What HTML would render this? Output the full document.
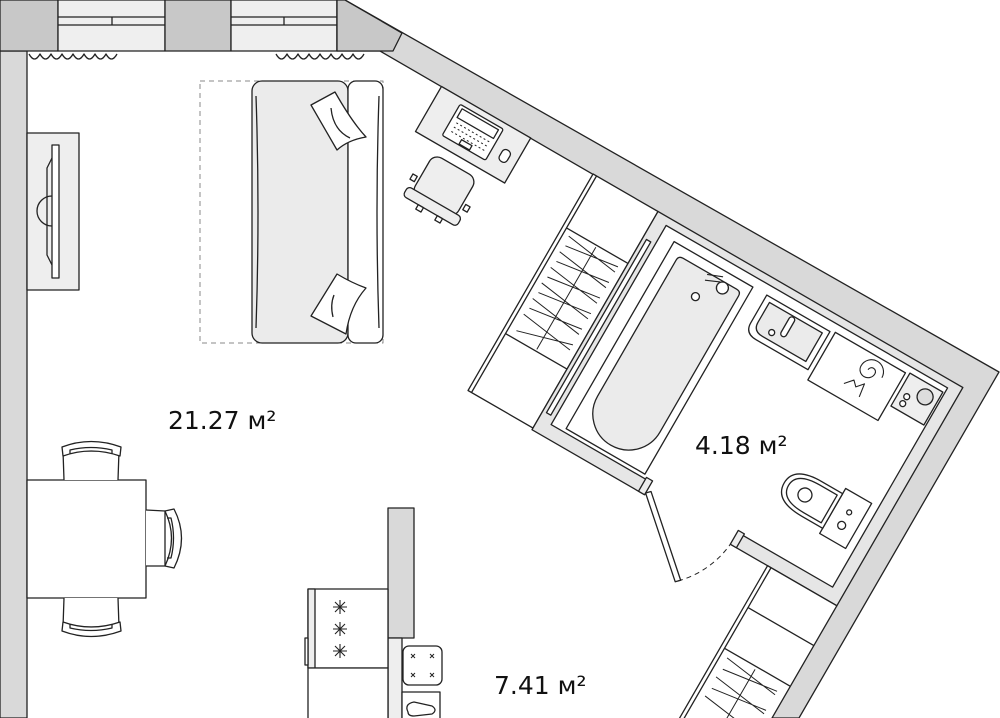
<!DOCTYPE html>
<html><head><meta charset="utf-8"><style>
html,body{margin:0;padding:0;background:#fff;overflow:hidden;width:1000px;height:718px;}
svg{display:block;overflow:hidden;}
text{font-family:"DejaVu Sans","Liberation Sans",sans-serif;fill:#111;}
</style></head><body>
<svg width="1000" height="718" viewBox="0 0 1000 718" xmlns="http://www.w3.org/2000/svg">
<defs><clipPath id="frame"><rect x="0" y="0" width="1000" height="718"/></clipPath></defs>
<g clip-path="url(#frame)">
<g stroke="#222" stroke-width="1.3" fill="none" stroke-linejoin="round">
<rect x="0" y="51" width="27" height="667" fill="#d9d9d9"/>
<rect x="0" y="0" width="58" height="51" fill="#c8c8c8"/>
<rect x="58" y="0" width="107" height="51" fill="#efefef"/>
<line x1="58" y1="17" x2="165" y2="17"/><line x1="58" y1="25" x2="165" y2="25"/><line x1="112" y1="17" x2="112" y2="25"/>
<rect x="165" y="0" width="66" height="51" fill="#c8c8c8"/>
<rect x="231" y="0" width="106" height="51" fill="#efefef"/>
<line x1="231" y1="17" x2="337" y2="17"/><line x1="231" y1="25" x2="337" y2="25"/><line x1="284" y1="17" x2="284" y2="25"/>
<polygon points="345,0 999,372 799,718 771,718 962,388 380,51 337,51 337,0" fill="#d9d9d9"/>
<polygon points="337,0 345,0 402,33 393,51 337,51" fill="#c8c8c8"/>
<path d="M29,54 q5.5,10 11,0 q5.5,10 11,0 q5.5,10 11,0 q5.5,10 11,0 q5.5,10 11,0 q5.5,10 11,0 q5.5,10 11,0 q5.5,10 11,0"/>
<path d="M276,54 q5.5,10 11,0 q5.5,10 11,0 q5.5,10 11,0 q5.5,10 11,0 q5.5,10 11,0 q5.5,10 11,0 q5.5,10 11,0 q5.5,10 11,0"/>
<rect x="27" y="133" width="52" height="157" fill="#eee"/>
<path d="M52,196 A15,15 0 0 0 52,226" />
<path d="M52,158 L47,168 L47,255 L52,265"/>
<rect x="52" y="145" width="7" height="133" fill="#fff"/>
<rect x="200" y="81" width="183" height="262" stroke="#888" stroke-dasharray="5,4" stroke-width="1"/>
<rect x="252" y="81" width="96" height="262" rx="10" fill="#ebebeb"/>
<rect x="348" y="81" width="35" height="262" rx="8" fill="#fff"/>
<path d="M256,96 Q260,212 256,328"/><path d="M379,96 Q375,212 379,328"/>
<path d="M311,105 L335,92 Q352,122 366,137 Q348,140 337,150 Z" fill="#fff"/>
<path d="M331,108 Q333,130 350,138"/>
<path d="M311,316 L337,274 Q352,283 366,288 Q350,306 346,334 Z" fill="#fff"/>
<path d="M334,295 Q330,305 333,317"/>
<rect x="27" y="480" width="119" height="118" fill="#fff"/>
<path d="M64,480 L63,451 L119,451 L118,480" fill="#fff"/>
<path d="M62,447 Q91,436 121,447 L120,456 Q91,446 63,456 Z" fill="#fff"/>
<path d="M70,454 L70,450 Q91,445 112,450 L112,454"/>
<path d="M64,598 L63,627 L119,627 L118,598" fill="#fff"/>
<path d="M62,631 Q91,642 121,631 L120,622 Q91,632 63,622 Z" fill="#fff"/>
<path d="M70,624 L70,628 Q91,633 112,628 L112,624"/>
<path d="M146,510 L165,511 L165,566 L146,566" fill="#fff"/>
<path d="M174,509 Q189,538 174,568 L165,566 Q178,538 165,511 Z" fill="#fff"/>
<path d="M167,518 L171,518 Q176,538 171,558 L167,558"/>
<rect x="388" y="508" width="26" height="130" fill="#d9d9d9"/>
<rect x="388" y="638" width="14" height="82" fill="#eee"/>
<rect x="308" y="589" width="80" height="79" fill="#fff"/>
<rect x="308" y="589" width="7" height="79" fill="#eee"/>
<rect x="305" y="638" width="3" height="27" fill="#fff"/>
<rect x="308" y="668" width="80" height="52" fill="#fff"/>
<g stroke-width="1.1">
<path d="M333,607 h14 M340,600 v14 M335,602 l10,10 M345,602 l-10,10"/>
<path d="M333,629 h14 M340,622 v14 M335,624 l10,10 M345,624 l-10,10"/>
<path d="M333,651 h14 M340,644 v14 M335,646 l10,10 M345,646 l-10,10"/>
</g>
<rect x="403" y="646" width="39" height="39" rx="6" fill="#fff"/>
<g stroke-width="1"><path d="M411,654 l4,4 M415,654 l-4,4 M430,654 l4,4 M434,654 l-4,4 M411,673 l4,4 M415,673 l-4,4 M430,673 l4,4 M434,673 l-4,4"/></g>
<rect x="402" y="692" width="38" height="28" fill="#fff"/>
<path d="M408,712 Q404,704 414,702 L432,706 Q438,710 432,714 L414,716 Q408,716 408,712 Z" fill="#fff"/>
<g transform="translate(380,51) rotate(30)">
 <rect x="71" y="0" width="103" height="52" fill="#eee"/>
 <rect x="96" y="6" width="50" height="36" rx="2" fill="#fff"/>
 <rect x="100" y="9" width="42" height="10" fill="#fff"/>
 <path d="M102,24 h38 M102,29 h38 M102,34 h38" stroke-dasharray="2,2.5" stroke-width="1"/>
 <rect x="115" y="36" width="12" height="5" fill="#fff"/>
 <rect x="156" y="22" width="9" height="13" rx="4" fill="#fff"/>
 <rect x="98" y="62" width="50" height="46" rx="9" fill="#eee"/>
 <rect x="92" y="103" width="62" height="11" rx="4" fill="#eee"/>
 <rect x="90" y="90" width="5" height="6" fill="#fff"/><rect x="151" y="90" width="5" height="6" fill="#fff"/>
 <rect x="110" y="114" width="6" height="5" fill="#fff"/><rect x="132" y="114" width="6" height="5" fill="#fff"/>
 <rect x="246" y="0" width="75" height="250" fill="#fff"/>
 <line x1="250" y1="0" x2="250" y2="250"/>
 <line x1="250" y1="60" x2="321" y2="60"/><line x1="250" y1="182" x2="321" y2="182"/>
 <line x1="285" y1="62" x2="285" y2="180" stroke-width="1"/>
 <g stroke-width="1">
 <path d="M256,66 L314,74 M258,76 L314,68 M256,84 L314,92 M258,94 L314,86 M256,102 L314,110 M258,112 L314,104 M256,120 L314,128 M258,130 L314,122 M256,138 L314,146 M258,148 L314,140 M256,156 L314,164 M258,174 L314,158"/>
 </g>
 <rect x="321" y="0" width="352" height="252" fill="#e6e6e6"/>
 <rect x="335" y="8" width="325" height="230" fill="#fff"/>
 <rect x="325" y="30" width="5" height="200" fill="#fff"/>
 <rect x="451" y="236" width="99" height="18" fill="#fff" stroke="none"/>
 <rect x="444" y="236" width="7" height="16" fill="#eee"/>
 <rect x="550" y="236" width="7" height="16" fill="#eee"/>
 <polygon points="451,250 455,246 525,308 521,312" fill="#fff"/>
 <path d="M523,310 A95,95 0 0 0 550,252" stroke-dasharray="5,4" stroke-width="1"/>
 <rect x="350" y="18" width="91" height="216" fill="#fff"/>
 <path d="M366,28 L428,28 Q433,28 433,33 L433,190 A36,36 0 0 1 361,190 L361,33 Q361,28 366,28 Z" fill="#ebebeb"/>
 <circle cx="415" cy="34" r="6" fill="#fff"/>
 <path d="M395,30 L410,24 M396,36 L410,30" stroke-width="1.1"/>
 <circle cx="396" cy="55" r="4" fill="#fff"/>
 <path d="M457,18 L530,18 L530,62 L470,62 Q457,62 457,50 Z" fill="#fff"/>
 <path d="M463,23 L524,23 L524,56 L474,56 Q463,56 463,46 Z" fill="#ebebeb"/>
 <rect x="488" y="24" width="6" height="22" rx="3" fill="#fff"/>
 <circle cx="480" cy="48" r="3" fill="#fff"/>
 <rect x="535" y="16" width="81" height="55" fill="#fff"/>
 <path d="M582,32 a4,4 0 1 1 8,0 a8,8 0 1 1 -16,0 a12,12 0 1 1 24,0" stroke-width="1.1"/>
 <path d="M568,56 L575,48 L580,53 L586,46 L588,60" stroke-width="1.1"/>
 <rect x="620" y="14" width="38" height="38" fill="#eee"/>
 <circle cx="645" cy="27" r="8" fill="#ddd"/>
 <circle cx="629" cy="36" r="3" fill="#fff"/><circle cx="629" cy="44" r="3" fill="#fff"/>
 <rect x="622" y="146" width="30" height="52" fill="#fff"/>
 <path d="M622,152 L598,152 Q566,152 566,172 Q566,192 598,192 L622,192 Z" fill="#fff"/>
 <path d="M618,156 L598,156 Q571,156 571,172 Q571,188 598,188 L618,188 Z"/>
 <circle cx="590" cy="172" r="7" fill="#fff"/>
 <circle cx="637" cy="165" r="2.5"/><circle cx="637" cy="180" r="4"/>
 <rect x="593" y="252" width="80" height="190" fill="#fff"/>
 <line x1="597" y1="252" x2="597" y2="442"/>
 <line x1="597" y1="298" x2="673" y2="298"/><line x1="597" y1="345" x2="673" y2="345"/>
 <line x1="634" y1="348" x2="634" y2="442" stroke-width="1"/>
 <g stroke-width="1"><path d="M604,352 L664,360 M606,364 L664,356 M604,374 L664,382 M606,386 L664,378 M604,396 L664,404"/></g>
</g>
</g>
<text x="168" y="429" font-size="25">21.27 м²</text>
<text x="695" y="454" font-size="25">4.18 м²</text>
<text x="494" y="694" font-size="25">7.41 м²</text>
</g>
</svg>
</body></html>
